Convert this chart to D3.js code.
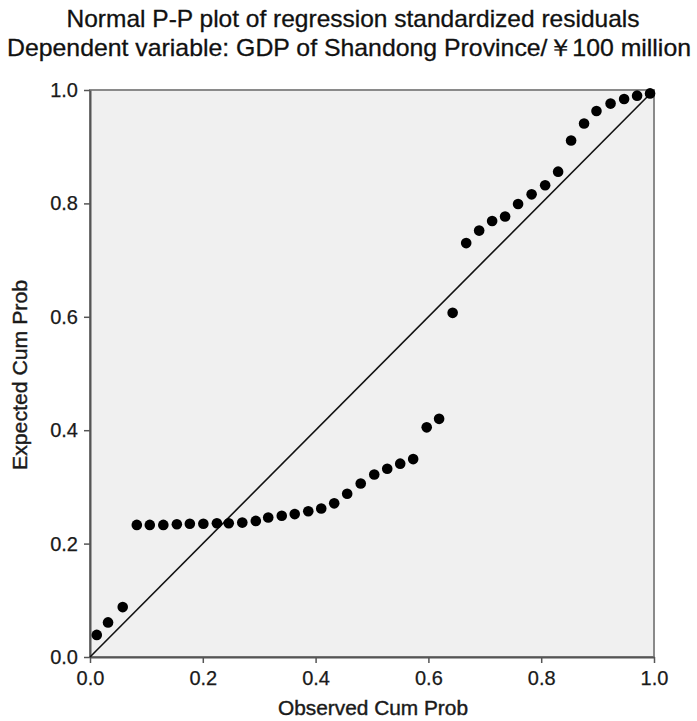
<!DOCTYPE html>
<html><head><meta charset="utf-8">
<script src="https://cdn.jsdelivr.net/npm/d3@7"></script>
<style>body{margin:0;background:#fff;} text{font-family:"Liberation Sans",Arial,sans-serif;}</style>
</head><body>
<svg id="c" width="697" height="721"></svg>
<script>
const titleLines = ["Normal P-P plot of regression standardized residuals",
  "Dependent variable: GDP of Shandong Province/\uFFE5100 million"];
const xLabel = "Observed Cum Prob";
const yLabel = "Expected Cum Prob";
const tickValues = [0, 0.2, 0.4, 0.6, 0.8, 1.0];
const observed = [0.012,0.032,0.058,0.083,0.106,0.130,0.154,0.177,0.201,0.225,0.246,0.270,0.294,0.316,0.340,0.363,0.387,0.410,0.433,0.456,0.480,0.504,0.527,0.550,0.573,0.597,0.619,0.643,0.667,0.690,0.713,0.736,0.759,0.783,0.807,0.830,0.853,0.876,0.898,0.923,0.947,0.970,0.993];
const expected = [0.039,0.061,0.088,0.233,0.233,0.233,0.234,0.235,0.235,0.236,0.236,0.237,0.240,0.246,0.249,0.252,0.257,0.262,0.271,0.288,0.306,0.322,0.332,0.341,0.349,0.405,0.420,0.607,0.730,0.752,0.769,0.777,0.799,0.816,0.832,0.856,0.911,0.941,0.963,0.976,0.984,0.990,0.994];

const svg = d3.select("#c");
const L = 90, R = 654, T = 90, B = 657;
const x = d3.scaleLinear().domain([0,1]).range([L,R]);
const y = d3.scaleLinear().domain([0,1]).range([B,T]);

svg.append("rect").attr("x",L).attr("y",T).attr("width",R-L).attr("height",B-T)
  .attr("fill","#f0f0f0").attr("stroke","#8a8a8a").attr("stroke-width",2);

const fmt = d3.format(".1f");
const xa = svg.append("g").attr("transform",`translate(0,${B})`)
  .call(d3.axisBottom(x).tickValues(tickValues).tickFormat(fmt).tickSize(6).tickSizeOuter(0));
const ya = svg.append("g").attr("transform",`translate(${L},0)`)
  .call(d3.axisLeft(y).tickValues(tickValues).tickFormat(fmt).tickSize(6).tickSizeOuter(0));
[xa,ya].forEach(g=>{
  g.select(".domain").attr("stroke","#555").attr("stroke-width",2);
  g.selectAll(".tick line").attr("stroke","#555").attr("stroke-width",1.5);
  g.selectAll(".tick text").attr("fill","#1a1a1a").attr("stroke","#1a1a1a").attr("stroke-width",0.25)
    .style("font-size","20px").style("font-family","'Liberation Sans',Arial,sans-serif");
});
xa.selectAll(".tick text").attr("y",14).attr("dy","0.71em");
ya.selectAll(".tick text").attr("x",-12);

// reference diagonal
svg.append("line").attr("x1",x(0)).attr("y1",y(0)).attr("x2",x(1)).attr("y2",y(1))
  .attr("stroke","#111").attr("stroke-width",1.6);

svg.append("g").selectAll("circle").data(observed.map((o,i)=>[o,expected[i]])).join("circle")
  .attr("cx",d=>x(d[0])).attr("cy",d=>y(d[1])).attr("r",5.3).attr("fill","#000");

svg.append("text").attr("x",353).attr("y",27).attr("text-anchor","middle")
  .attr("textLength",573).attr("lengthAdjust","spacingAndGlyphs")
  .attr("stroke","#111").attr("stroke-width",0.3)
  .style("font-size","24px").attr("fill","#111").text(titleLines[0]);
svg.append("text").attr("x",349).attr("y",56).attr("text-anchor","middle")
  .attr("textLength",684).attr("lengthAdjust","spacingAndGlyphs")
  .attr("stroke","#111").attr("stroke-width",0.3)
  .style("font-size","24px").attr("fill","#111").text(titleLines[1]);

svg.append("text").attr("x",373).attr("y",715).attr("text-anchor","middle")
  .attr("textLength",190).attr("lengthAdjust","spacingAndGlyphs")
  .attr("stroke","#1a1a1a").attr("stroke-width",0.4)
  .style("font-size","20px").attr("fill","#1a1a1a").text(xLabel);
svg.append("text").attr("transform","translate(27,375) rotate(-90)").attr("text-anchor","middle")
  .attr("textLength",190).attr("lengthAdjust","spacingAndGlyphs")
  .attr("stroke","#1a1a1a").attr("stroke-width",0.4)
  .style("font-size","20px").attr("fill","#1a1a1a").text(yLabel);
</script>
</body></html>
